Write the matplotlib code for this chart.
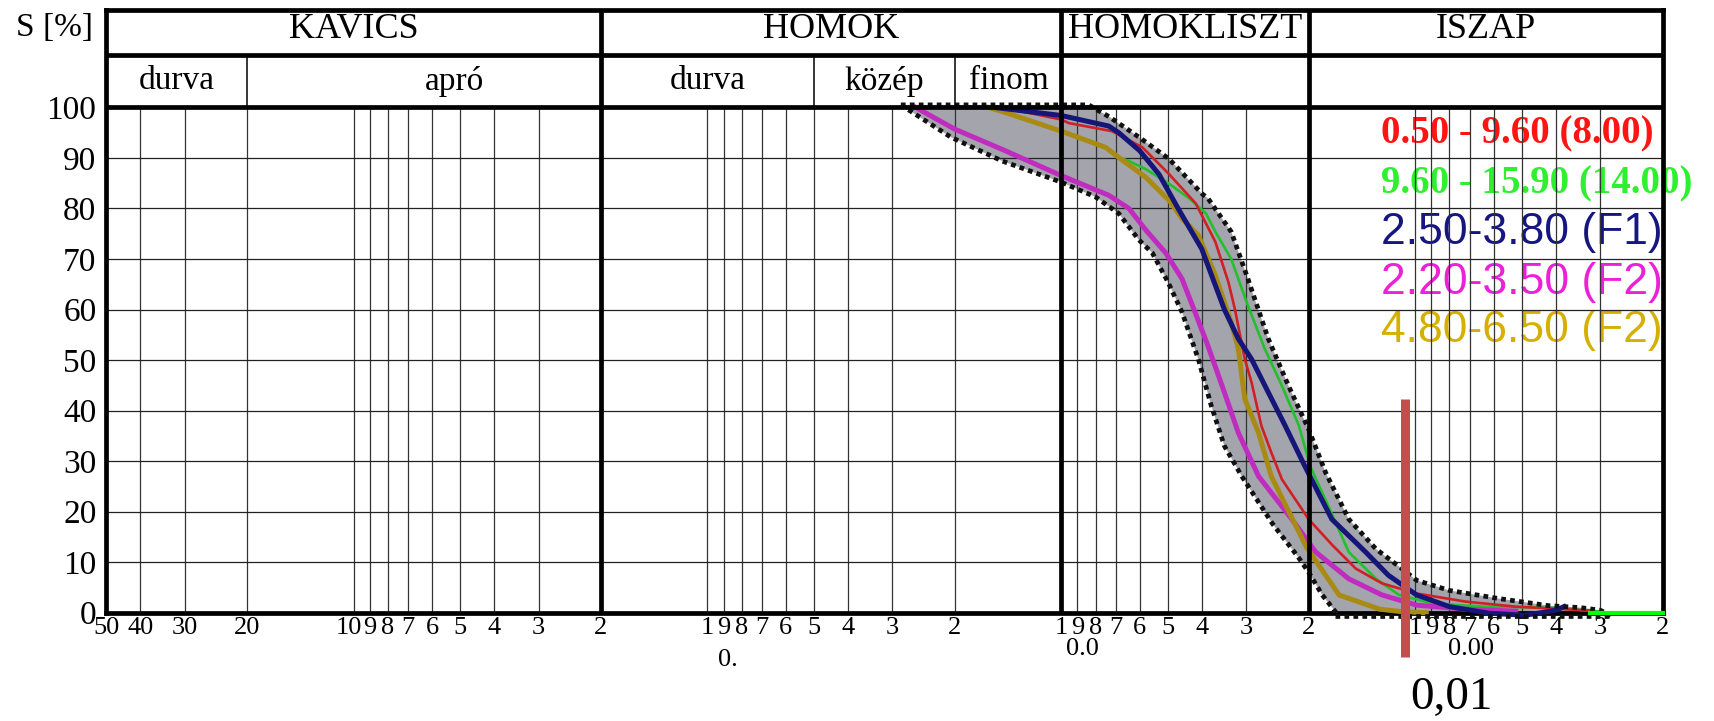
import matplotlib
matplotlib.use('Agg')
import matplotlib.pyplot as plt
from matplotlib.ticker import NullLocator
from matplotlib.transforms import offset_copy

serif = 'Liberation Serif'
sans = 'Liberation Sans'

# grain size [mm] / passing S [%]
red_d = [0.147, 0.1, 0.0953, 0.0719, 0.059, 0.0496, 0.0417, 0.0367, 0.0337, 0.0323, 0.0303, 0.029,
         0.0272, 0.0255, 0.0238, 0.02, 0.0171, 0.0147, 0.0124, 0.0099, 0.0072, 0.0052, 0.0038, 0.0032]
red_s = [100, 97.6, 96.9, 95.3, 92.1, 86.8, 81, 73.4, 65.4, 60, 50.2, 45.6,
         37, 31.7, 26.4, 18.5, 13.3, 8.7, 5.8, 3.8, 2.2, 1.2, 0.7, 0.4]

green_d = [0.161, 0.147, 0.1, 0.075, 0.0688, 0.0644, 0.0578, 0.0496, 0.0435, 0.039, 0.0367, 0.0331, 0.0297,
           0.0266, 0.0238, 0.0213, 0.0198, 0.0177, 0.0154, 0.0129, 0.0111, 0.0089, 0.0064, 0.0042, 0.0038, 0.003]
green_s = [100, 99.2, 95.3, 92.1, 90.1, 89.4, 87.8, 84.9, 82, 79, 75.4, 70, 60.8,
           52.2, 44.9, 37, 29, 21.5, 12, 6.7, 3.5, 1.8, 1.2, 1.0, 0.85, 0.2]
green_tail_d = [0.0032, 0.002]
green_tail_s = [0, 0]

navy_d = [0.155, 0.1, 0.0734, 0.0688, 0.06, 0.053, 0.0465, 0.0401, 0.0346, 0.0316, 0.029, 0.026, 0.0233,
          0.0205, 0.0172, 0.0138, 0.0119, 0.0099, 0.008, 0.0062, 0.0049, 0.0044, 0.004, 0.0038]
navy_s = [100, 98.4, 96.3, 95, 91.4, 86.8, 79.7, 72, 60, 54.2, 50.2, 43.6, 37,
          29, 18.5, 12, 7.4, 3.5, 1.2, -0.1, -0.5, 0, 0.5, 1.2]

magenta_d = [0.258, 0.2, 0.147, 0.1, 0.0734, 0.0644, 0.0578, 0.0507, 0.0456, 0.0419, 0.0385, 0.0346,
             0.0316, 0.0277, 0.0223, 0.0191, 0.0154, 0.0124, 0.0099, 0.0072, 0.0052]
magenta_s = [100, 95.7, 91.7, 86.5, 82.6, 80, 75.8, 71.2, 66.1, 59.5, 52.8, 43.6,
             35.6, 27, 18.5, 12, 6.7, 3.5, 1.5, 0.7, 0.3]

gold_d = [0.161, 0.147, 0.1, 0.075, 0.0688, 0.0578, 0.0496, 0.0456, 0.041, 0.0367, 0.0331, 0.0316,
          0.0303, 0.0277, 0.0255, 0.0203, 0.0164, 0.0126, 0.0109, 0.0093]
gold_s = [100, 99.2, 95.3, 92.1, 90.1, 86.2, 81.6, 78, 74.7, 66.8, 57.5, 52.2,
          42.3, 35.6, 27, 13, 3.5, 0.7, 0.2, 0]

# envelope (gray band)
env_up_d = [0.284, 0.0836, 0.0792, 0.0734, 0.06, 0.0496, 0.04, 0.0385, 0.0331, 0.0297, 0.026, 0.0228,
            0.02, 0.0179, 0.0154, 0.0129, 0.0109, 0.0099, 0.008, 0.0058, 0.0042, 0.0034, 0.003, 0.0028]
env_up_s = [100.5, 100.5, 99.5, 98.2, 94, 89.8, 82.9, 82, 75.4, 66.1, 54.2, 44.9,
            36.3, 27.7, 18.5, 12.6, 8.7, 6.4, 4.4, 2.8, 1.4, 1.0, 0.5, -0.6]
env_lo_d = [0.284, 0.205, 0.147, 0.1, 0.0801, 0.0688, 0.0604, 0.0553, 0.05, 0.0456, 0.041, 0.0377,
            0.0346, 0.0309, 0.0253, 0.0214, 0.02, 0.0183, 0.0168, 0.0168]
env_lo_s = [100.5, 94.1, 89.4, 85.2, 82.3, 79, 73.8, 71.2, 65.5, 59.5, 50.2, 41,
            33, 27, 17.6, 11, 8, 3.5, 0.2, -0.6]

legend_labels = ['0.50 - 9.60 (8.00)', '9.60 - 15.90 (14.00)', '2.50-3.80 (F1)', '2.20-3.50 (F2)', '4.80-6.50 (F2)']

x_ticks = [50, 40, 30, 20, 10, 9, 8, 7, 6, 5, 4, 3, 2,
           1, 0.9, 0.8, 0.7, 0.6, 0.5, 0.4, 0.3, 0.2,
           0.1, 0.09, 0.08, 0.07, 0.06, 0.05, 0.04, 0.03, 0.02,
           0.01, 0.009, 0.008, 0.007, 0.006, 0.005, 0.004, 0.003, 0.002]
x_labels = ['50', '40', '30', '20', '10', '9', '8', '7', '6', '5', '4', '3', '2',
            '1', '9', '8', '7', '6', '5', '4', '3', '2',
            '1', '9', '8', '7', '6', '5', '4', '3', '2',
            '1', '9', '8', '7', '6', '5', '4', '3', '2']
y_ticks = [0, 10, 20, 30, 40, 50, 60, 70, 80, 90, 100]

main_groups = ['KAVICS', 'HOMOK', 'HOMOKLISZT', 'ISZAP']
main_bounds = [50, 2, 0.1, 0.02, 0.002]
sub_groups = ['durva', 'apró', 'durva', 'közép', 'finom']
sub_pos = [31.6, 5.2, 1.0, 0.316, 0.141]
sub_dividers = [20, 0.5, 0.2]

fig = plt.figure(figsize=(17.15, 7.21), dpi=100)
ax = fig.add_axes([0.0619, 0.1502, 0.9075, 0.8361])
ax.set_xscale('log')
ax.set_xlim(50, 0.002)
ax.set_ylim(0, 119.3)

ax.set_xticks(x_ticks)
ax.set_xticklabels(x_labels, fontfamily=serif, fontsize=19)
ax.xaxis.set_minor_locator(NullLocator())
ax.set_yticks(y_ticks)
ax.set_yticklabels([str(v) for v in y_ticks], fontfamily=serif, fontsize=24)
ax.tick_params(axis='x', length=0, pad=3)
ax.tick_params(axis='y', length=0, pad=7)
for sp in ax.spines.values():
    sp.set_linewidth(3.4)

# "10" sits tight against "9" in the reference; nudge it left a bit
lab10 = ax.get_xticklabels()[4]
lab10.set_transform(offset_copy(lab10.get_transform(), fig=fig, x=-3, units='points'))

# grid
thin = [v for v in x_ticks if v not in (50, 2, 0.1, 0.02, 0.002)]
ax.vlines(thin, 0, 100, color='#333333', lw=0.9, zorder=2)
ax.hlines(y_ticks[1:-1], 50, 0.002, color='#222222', lw=0.9, zorder=2)
ax.hlines([100, 110.4], 50, 0.002, color='black', lw=3.4, zorder=5)
ax.vlines(main_bounds[1:-1], 0, 119.3, color='black', lw=3.4, zorder=5)
ax.vlines(sub_dividers, 100, 110.4, color='black', lw=1.1, zorder=5)

for i, name in enumerate(main_groups):
    xc = (main_bounds[i] * main_bounds[i + 1]) ** 0.5
    ax.text(xc, 115.4, name, ha='center', va='center', fontfamily=serif, fontsize=26)
for name, xc in zip(sub_groups, sub_pos):
    ax.text(xc, 105.2, name, ha='center', va='center', fontfamily=serif, fontsize=24)

# envelope
ax.fill(env_up_d + env_lo_d[::-1], env_up_s + env_lo_s[::-1], color='#a4a4ad', lw=0, zorder=1, clip_on=False)
for dd, ss in [(env_up_d, env_up_s), (env_lo_d, env_lo_s),
               ([env_lo_d[-1], env_up_d[-1]], [env_lo_s[-1], env_up_s[-1]])]:
    ax.plot(dd, ss, color='#111111', lw=3.4, ls=(0, (1, 0.9)), zorder=4, clip_on=False)

# curves
ax.plot(green_d, green_s, color='#22c02a', lw=1.9, zorder=3, clip_on=False)
ax.plot(red_d, red_s, color='#d21f26', lw=1.9, zorder=3, clip_on=False)
ax.plot(magenta_d, magenta_s, color='#c02cbf', lw=3.6, zorder=3, clip_on=False)
ax.plot(gold_d, gold_s, color='#a98b14', lw=3.6, zorder=3, clip_on=False)
ax.plot(green_tail_d, green_tail_s, color='#00ff00', lw=3.0, zorder=6, clip_on=False)
ax.plot(navy_d, navy_s, color='#16167a', lw=3.6, zorder=3, clip_on=False)

# decade prefixes under tick labels
ax.text(0.878, -9.3, '0.', ha='center', va='center', fontfamily=serif, fontsize=19, clip_on=False)
ax.text(0.0874, -7.1, '0.0', ha='center', va='center', fontfamily=serif, fontsize=19, clip_on=False)
ax.text(0.00697, -7.1, '0.00', ha='center', va='center', fontfamily=serif, fontsize=19, clip_on=False)

# 0.01 mm marker
ax.plot([0.0107, 0.0107], [42.2, -8.7], color='#c0504d', lw=6.5, solid_capstyle='butt', zorder=7, clip_on=False)
ax.text(0.0103, -16.8, '0,01', ha='left', va='center', fontfamily=serif, fontsize=34, clip_on=False)

fig.text(0.032, 1 - 25 / 659, 'S [%]', ha='center', va='center', fontfamily=serif, fontsize=24)

# legend
leg_colors = ['#ff1414', '#2ef02e', '#161680', '#ec20d8', '#d6b000']
leg_y = [122.5, 168, 212.5, 258.5, 302.5]
for i, lab in enumerate(legend_labels):
    if i < 2:
        ax.text(1263 / 1568, 1 - leg_y[i] / 659, lab, transform=fig.transFigure, ha='left', va='center',
                color=leg_colors[i], fontfamily=serif, fontweight='bold', fontsize=28, zorder=1.5, clip_on=False)
    else:
        ax.text(1263 / 1568, 1 - leg_y[i] / 659, lab, transform=fig.transFigure, ha='left', va='center',
                color=leg_colors[i], fontfamily=sans, fontsize=32, zorder=1.5, clip_on=False)

fig.savefig('out.png', dpi=100)
